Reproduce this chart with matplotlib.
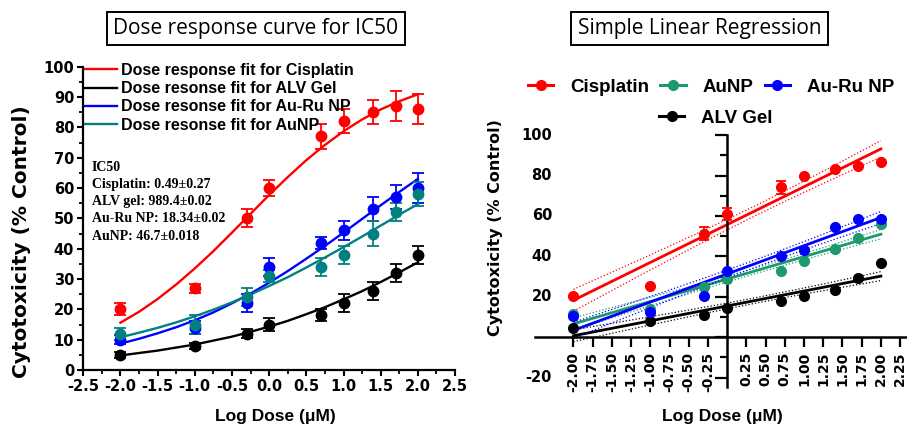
import numpy as np
import matplotlib.pyplot as plt
import matplotlib.transforms as mtransforms
from matplotlib.lines import Line2D
from matplotlib.ticker import MultipleLocator, FormatStrFormatter

plt.rcParams['axes.unicode_minus'] = False

# log10 of dose in uM (0.01, 0.1, 0.5, 1, 5, 10, 25, 50, 100)
log_dose = [-2, -1, -0.3, 0, 0.7, 1, 1.4, 1.7, 2]

# cytotoxicity, mean and SD (left panel)
cis_mean = [20, 27, 50, 60, 77, 82, 85, 87, 86]
cis_sd = [2, 1.5, 3, 2.5, 4, 4, 4, 5, 5]
alv_mean = [5, 8, 12, 15, 18, 22, 26, 32, 38]
alv_sd = [1, 1, 1.5, 2, 2, 3, 3, 3, 3]
auru_mean = [10, 14, 22, 34, 42, 46, 53, 57, 60]
auru_sd = [1.5, 2, 3, 3, 2, 3, 4, 4, 5]
aunp_mean = [12, 15, 24, 31, 34, 38, 45, 52, 58]
aunp_sd = [2, 3, 3, 2, 3, 3, 4, 3, 4]

# fitted dose-response curves sampled every 0.25 log units
fit_x = [-2, -1.75, -1.5, -1.25, -1, -0.75, -0.5, -0.25, 0,
         0.25, 0.5, 0.75, 1, 1.25, 1.5, 1.75, 2]
cis_fit = [15.6, 19.2, 23.4, 28.2, 33.5, 39.2, 45.3, 51.5, 57.7,
           63.6, 69.2, 74.2, 78.7, 82.6, 85.9, 88.6, 90.9]
alv_fit = [4.8, 5.6, 6.4, 7.4, 8.4, 9.7, 11.0, 12.6, 14.3,
           16.2, 18.4, 20.7, 23.3, 26.0, 29.0, 32.2, 35.5]
auru_fit = [8.7, 10.3, 12.1, 14.1, 16.4, 19.0, 22.0, 25.2, 28.8,
            32.6, 36.7, 40.9, 45.3, 49.8, 54.3, 58.7, 63.0]
aunp_fit = [10.8, 12.3, 13.9, 15.7, 17.7, 19.9, 22.3, 24.9, 27.7,
            30.6, 33.8, 37.1, 40.5, 44.0, 47.6, 51.2, 54.7]

ic50_lines = ['IC50', 'Cisplatin: 0.49\u00b10.27', 'ALV gel: 989.4\u00b10.02',
              'Au-Ru NP: 18.34\u00b10.02', 'AuNP: 46.7\u00b10.018']

# values used for the linear regression panel
cis_r = [20.5, 25.4, 51.3, 61.1, 74.1, 80.0, 83.1, 84.9, 86.7]
cis_r_err = [0, 0, 3, 3, 3, 0, 0, 0, 0]
aunp_r = [11.5, 14.0, 24.9, 28.7, 32.5, 37.5, 43.4, 49.1, 56.0]
auru_r = [10.3, 12.6, 20.2, 32.5, 40.2, 43.1, 54.7, 58.5, 58.5]
alv_r = [4.4, 7.9, 11.2, 14.3, 17.7, 20.2, 23.3, 29.2, 36.6]

xticks_r = [-2.0, -1.75, -1.5, -1.25, -1.0, -0.75, -0.5, -0.25,
            0.25, 0.5, 0.75, 1.0, 1.25, 1.5, 1.75, 2.0, 2.25]
yticks_r = [-20, 20, 40, 60, 80, 100]

RED, BLACK, BLUE, TEAL, GREEN = '#ff0000', '#000000', '#0000ff', '#008080', '#1d9a6c'

tick_font = dict(family='DejaVu Sans', weight='bold', size=10.5)
label_font = dict(family='Liberation Sans', weight='bold', size=12.5)

fig = plt.figure(figsize=(9.07, 4.25), dpi=100)

# ---------------- left: dose response curves ----------------
ax1 = fig.add_axes([0.0918, 0.1294, 0.4099, 0.7137])

series = [
    ('Dose response fit for Cisplatin', cis_fit, cis_mean, cis_sd, RED),
    ('Dose resonse fit for ALV Gel', alv_fit, alv_mean, alv_sd, BLACK),
    ('Dose resonse fit for Au-Ru NP', auru_fit, auru_mean, auru_sd, BLUE),
    ('Dose resonse fit for AuNP', aunp_fit, aunp_mean, aunp_sd, TEAL),
]
fit_lines = []
for label, fit, mean, sd, col in series:
    ln, = ax1.plot(fit_x, fit, color=col, lw=1.7, label=label, zorder=2)
    fit_lines.append(ln)
    ax1.errorbar(log_dose, mean, yerr=sd, fmt='o', color=col, ms=7.5,
                 capsize=4, elinewidth=1.3, capthick=1.3, zorder=3, clip_on=False)

ax1.set_xlim(-2.5, 2.5)
ax1.set_ylim(0, 100)
for s in ('top', 'right'):
    ax1.spines[s].set_visible(False)
for s in ('left', 'bottom'):
    ax1.spines[s].set_linewidth(1.6)
ax1.xaxis.set_major_locator(MultipleLocator(0.5))
ax1.xaxis.set_minor_locator(MultipleLocator(0.25))
ax1.xaxis.set_major_formatter(FormatStrFormatter('%.1f'))
ax1.yaxis.set_major_locator(MultipleLocator(10))
ax1.yaxis.set_minor_locator(MultipleLocator(5))
ax1.tick_params(which='major', direction='out', length=4.5, width=1.5, pad=2)
ax1.tick_params(which='minor', direction='out', length=3, width=1.3)
for t in ax1.get_xticklabels() + ax1.get_yticklabels():
    t.set(**tick_font)

ax1.legend(handles=fit_lines, loc='upper left', bbox_to_anchor=(0.005, 1.012),
           frameon=False, prop=dict(family='Liberation Sans', weight='bold', size=11.5),
           handlelength=2.0, handletextpad=0.25, labelspacing=0.2,
           borderpad=0, borderaxespad=0)

ax1.text(0.0226, 0.69, '\n'.join(ic50_lines), transform=ax1.transAxes,
         ha='left', va='top', family='Liberation Serif', weight='bold',
         size=10, linespacing=1.42)

ax1.set_xlabel('Log Dose (\u03bcM)', va='center', **label_font)
ax1.xaxis.set_label_coords(0.516, -0.152)
ax1.set_ylabel('Cytotoxicity (% Control)', va='center', family='DejaVu Sans',
               weight='bold', size=14.5)
ax1.yaxis.set_label_coords(-0.165, 0.4225)

fig.text(255.8 / 907, 1 - 28.3 / 425, 'Dose response curve for IC50',
         ha='center', va='center', family='Open Sans', size=15,
         bbox=dict(boxstyle='square,pad=0.3', fc='white', ec='black', lw=1.4))

# ---------------- right: simple linear regression ----------------
ax2 = fig.add_axes([0.5899, 0.0899, 0.4101, 0.592])

x = np.array(log_dose, dtype=float)
xs = np.linspace(-2, 2, 60)
n_rep = 3          # triplicate wells behind each mean
t_crit = 2.06      # two-sided 95 %, df = 3*9 - 2


def regression(y):
    y = np.asarray(y, dtype=float)
    slope, icept = np.polyfit(x, y, 1)
    resid = y - (slope * x + icept)
    s = np.sqrt(np.sum(resid ** 2) / (len(x) - 2))
    sxx = np.sum((x - x.mean()) ** 2) * n_rep
    se = s * np.sqrt(1 / (len(x) * n_rep) + (xs - x.mean()) ** 2 / sxx)
    fit = slope * xs + icept
    return fit, fit - t_crit * se, fit + t_crit * se


reg_series = [
    ('ALV Gel', alv_r, None, BLACK),
    ('AuNP', aunp_r, None, GREEN),
    ('Au-Ru NP', auru_r, None, BLUE),
    ('Cisplatin', cis_r, cis_r_err, RED),
]
handles = {}
for label, vals, err, col in reg_series:
    fit, lo, hi = regression(vals)
    ax2.plot(xs, fit, color=col, lw=2, zorder=2)
    ax2.plot(xs, lo, color=col, lw=0.9, ls=':', zorder=2)
    ax2.plot(xs, hi, color=col, lw=0.9, ls=':', zorder=2)
    ax2.errorbar(log_dose, vals, yerr=err, fmt='o', color=col, ms=7,
                 capsize=3.5, elinewidth=1.3, capthick=1.3, zorder=3, clip_on=False)
    handles[label] = Line2D([], [], color=col, lw=2.2, marker='o', ms=7)

ax2.set_xlim(-2.5, 2.34)
ax2.set_ylim(-24.6, 100)
for s in ('top', 'right'):
    ax2.spines[s].set_visible(False)
for s in ('left', 'bottom'):
    ax2.spines[s].set_position(('data', 0))
    ax2.spines[s].set_linewidth(1.8)

ax2.yaxis.set_major_locator(MultipleLocator(20))
ax2.yaxis.set_minor_locator(MultipleLocator(10))
ax2.tick_params(axis='y', which='major', direction='out', length=8.5, width=1.6, labelleft=False)
ax2.tick_params(axis='y', which='minor', direction='out', length=5, width=1.6)
ax2.set_xticks(xticks_r)
ax2.set_xticklabels(['%.2f' % v for v in xticks_r], rotation=90, **dict(tick_font, size=10))
ax2.tick_params(axis='x', direction='out', length=7.2, width=1.6, pad=3.5)

ylab_trans = mtransforms.blended_transform_factory(ax2.transAxes, ax2.transData)
for v in yticks_r:
    ax2.text(0.0457, v, str(v), transform=ylab_trans, ha='right', va='center', **tick_font)

ax2.set_xlabel('Log Dose (\u03bcM)', va='center', **label_font)
ax2.xaxis.set_label_coords(0.503, -0.12)
ax2.set_ylabel('Cytotoxicity (% Control)', va='center', family='DejaVu Sans',
               weight='bold', size=11.5)
ax2.yaxis.set_label_coords(-0.105, 0.631)

# legend: three entries on the first row, ALV Gel below the middle one
leg_kw = dict(loc='center left', frameon=False,
              prop=dict(family='Liberation Sans', weight='bold', size=13.5),
              handlelength=1.35, handletextpad=0.9, columnspacing=0.6,
              borderpad=0, borderaxespad=0)
fig.legend([handles['Cisplatin'], handles['AuNP'], handles['Au-Ru NP']],
           ['Cisplatin', 'AuNP', 'Au-Ru NP'], ncol=3,
           bbox_to_anchor=(528 / 907, 1 - 87 / 425), **leg_kw)
fig.legend([handles['ALV Gel']], ['ALV Gel'],
           bbox_to_anchor=(659 / 907, 1 - 118 / 425), **leg_kw)

fig.text(699.5 / 907, 1 - 28.5 / 425, 'Simple Linear Regression',
         ha='center', va='center', family='Open Sans', size=15,
         bbox=dict(boxstyle='square,pad=0.3', fc='white', ec='black', lw=1.4))

fig.savefig('out.png', dpi=100)
